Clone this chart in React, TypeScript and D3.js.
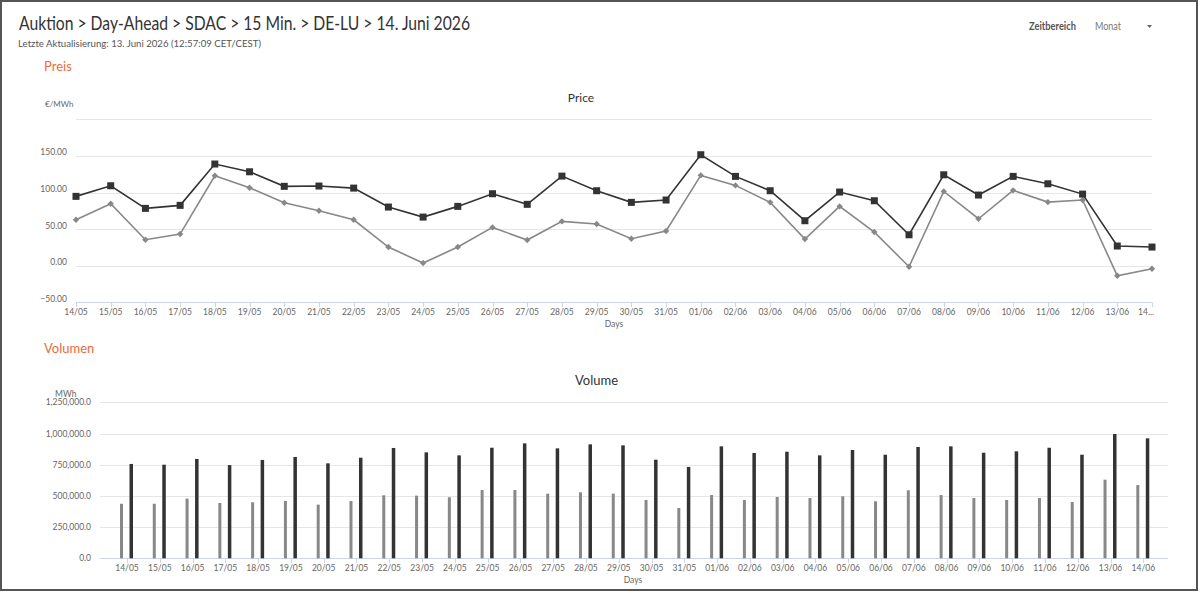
import React, { useEffect, useRef } from 'react';
import * as d3 from 'd3';

// Days on the x axis (14/05 – 14/06)
const days = [
  '14/05', '15/05', '16/05', '17/05', '18/05', '19/05', '20/05', '21/05', '22/05', '23/05',
  '24/05', '25/05', '26/05', '27/05', '28/05', '29/05', '30/05', '31/05', '01/06', '02/06',
  '03/06', '04/06', '05/06', '06/06', '07/06', '08/06', '09/06', '10/06', '11/06', '12/06',
  '13/06', '14/06',
];

// Price €/MWh – dark series (square markers)
const priceDark = [
  94.8, 109.3, 78.4, 82.5, 139.0, 128.4, 108.5, 108.9, 106.1, 80.2,
  66.5, 81.1, 98.4, 83.9, 122.5, 102.5, 86.6, 89.8, 151.7, 122.1,
  102.5, 61.5, 100.7, 88.8, 42.3, 124.3, 96.6, 122.1, 112.0, 97.9,
  26.9, 25.5,
];

// Price €/MWh – light series (diamond markers)
const priceLight = [
  62.8, 84.7, 35.5, 43.3, 123.0, 106.6, 86.1, 75.1, 62.8, 25.5,
  3.7, 25.5, 52.4, 35.1, 60.6, 57.0, 36.9, 47.4, 123.5, 109.8,
  86.6, 36.5, 81.1, 46.0, -1.4, 101.6, 64.2, 103.0, 87.0, 89.8,
  -13.7, -4.1,
];

// Volume MWh
const volumeLight = [
  437000, 437000, 478000, 443000, 449000, 459000, 430000, 459000, 505000, 502000,
  489000, 547000, 547000, 518000, 529000, 518000, 467000, 403000, 507000, 467000,
  491000, 483000, 497000, 457000, 545000, 507000, 483000, 467000, 483000, 451000,
  630000, 587000,
];
const volumeDark = [
  756000, 750000, 796000, 747000, 788000, 812000, 761000, 806000, 884000, 849000,
  825000, 886000, 921000, 881000, 913000, 905000, 790000, 732000, 897000, 844000,
  854000, 825000, 868000, 830000, 892000, 897000, 846000, 857000, 886000, 830000,
  996000, 961000,
];

const priceTicks = [-50, 0, 50, 100, 150, 200];
const volumeTicks = [0, 250000, 500000, 750000, 1000000, 1250000];

const FONT = 'Lato, "Open Sans", sans-serif';
const DARK = '#333333';
const LIGHT = '#888888';
const ORANGE = '#ec6a3e';
const GRID = '#e6e6e6';
const AXIS = '#ccd6eb';
const LABEL = '#666666';

const App: React.FC = () => {
  const svgRef = useRef<SVGSVGElement>(null);

  useEffect(() => {
    if (!svgRef.current) return;
    const svg = d3.select(svgRef.current);
    svg.selectAll('*').remove();

    // frame
    svg.append('rect')
      .attr('x', 1).attr('y', 1)
      .attr('width', 1196).attr('height', 589)
      .attr('fill', '#fff')
      .attr('stroke', '#555').attr('stroke-width', 2);

    // header
    svg.append('text')
      .attr('x', 19).attr('y', 30)
      .attr('textLength', 451).attr('lengthAdjust', 'spacingAndGlyphs')
      .style('font-family', FONT).style('font-size', '19px').style('fill', '#333')
      .text('Auktion > Day-Ahead > SDAC > 15 Min. > DE-LU > 14. Juni 2026');

    svg.append('text')
      .attr('x', 18).attr('y', 47)
      .attr('textLength', 243).attr('lengthAdjust', 'spacingAndGlyphs')
      .style('font-family', FONT).style('font-size', '10px').style('fill', '#555')
      .text('Letzte Aktualisierung: 13. Juni 2026 (12:57:09 CET/CEST)');

    svg.append('text')
      .attr('x', 1029).attr('y', 30)
      .attr('textLength', 47).attr('lengthAdjust', 'spacingAndGlyphs')
      .style('font-family', FONT).style('font-size', '11px').style('font-weight', '700')
      .style('fill', '#555')
      .text('Zeitbereich');
    svg.append('text')
      .attr('x', 1095).attr('y', 30)
      .attr('textLength', 26).attr('lengthAdjust', 'spacingAndGlyphs')
      .style('font-family', FONT).style('font-size', '11px').style('fill', '#777')
      .text('Monat');
    svg.append('path')
      .attr('d', 'M1147,25 L1152,25 L1149.5,28 Z')
      .attr('fill', '#666');

    svg.append('text')
      .attr('x', 44).attr('y', 71)
      .style('font-family', FONT).style('font-size', '13px').style('fill', ORANGE)
      .text('Preis');
    svg.append('text')
      .attr('x', 44).attr('y', 353)
      .style('font-family', FONT).style('font-size', '13px').style('fill', ORANGE)
      .text('Volumen');

    // ---------- Price chart ----------
    const px = d3.scalePoint<string>().domain(days).range([76, 1152]);
    const py = d3.scaleLinear().domain([-50, 200]).range([302.3, 119.4]);
    const pg = svg.append('g');

    pg.append('text')
      .attr('x', 581).attr('y', 102)
      .attr('text-anchor', 'middle')
      .style('font-family', FONT).style('font-size', '12px').style('fill', '#333')
      .text('Price');

    pg.append('text')
      .attr('x', 45).attr('y', 107)
      .style('font-family', FONT).style('font-size', '8px').style('fill', LABEL)
      .text('€/MWh');

    priceTicks.forEach((t) => {
      pg.append('line')
        .attr('x1', 76).attr('x2', 1152)
        .attr('y1', Math.round(py(t)) + 0.5).attr('y2', Math.round(py(t)) + 0.5)
        .attr('stroke', t === -50 ? AXIS : GRID).attr('stroke-width', 1);
      if (t !== 200) {
        pg.append('text')
          .attr('x', 67).attr('y', py(t) - 0.5)
          .attr('text-anchor', 'end')
          .style('font-family', FONT).style('font-size', '8.5px').style('fill', LABEL)
          .text(d3.format('.2f')(t));
      }
    });

    days.forEach((d, i) => {
      const x = Math.round(px(d)!) + 0.5;
      pg.append('line')
        .attr('x1', x).attr('x2', x).attr('y1', 302.5).attr('y2', 307)
        .attr('stroke', AXIS);
      pg.append('text')
        .attr('x', i === days.length - 1 ? px(d)! - 6 : px(d)!)
        .attr('y', 315)
        .attr('text-anchor', 'middle')
        .style('font-family', FONT).style('font-size', '8.5px').style('fill', LABEL)
        .text(i === days.length - 1 ? d.slice(0, 2) + '...' : d);
    });

    pg.append('text')
      .attr('x', 614).attr('y', 327)
      .attr('text-anchor', 'middle')
      .style('font-family', FONT).style('font-size', '8.5px').style('fill', LABEL)
      .text('Days');

    const line = d3.line<number>()
      .x((_, i) => px(days[i])!)
      .y((v) => py(v));

    pg.append('path')
      .datum(priceLight)
      .attr('d', line)
      .attr('fill', 'none').attr('stroke', LIGHT).attr('stroke-width', 1.6);
    pg.append('path')
      .datum(priceDark)
      .attr('d', line)
      .attr('fill', 'none').attr('stroke', DARK).attr('stroke-width', 1.6);

    const diamond = d3.symbol().type(d3.symbolDiamond2).size(26);
    pg.selectAll('path.diamond')
      .data(priceLight)
      .join('path')
      .attr('class', 'diamond')
      .attr('d', diamond)
      .attr('transform', (v, i) => `translate(${px(days[i])},${py(v)})`)
      .attr('fill', LIGHT);

    pg.selectAll('rect.square')
      .data(priceDark)
      .join('rect')
      .attr('class', 'square')
      .attr('x', (_, i) => px(days[i])! - 3.5)
      .attr('y', (v) => py(v) - 3.5)
      .attr('width', 7).attr('height', 7)
      .attr('fill', DARK);

    // ---------- Volume chart ----------
    const vx = d3.scalePoint<string>().domain(days).range([127, 1143.3]);
    const vy = d3.scaleLinear().domain([0, 1250000]).range([558.3, 402.3]);
    const vg = svg.append('g');

    vg.append('text')
      .attr('x', 596.5).attr('y', 385)
      .attr('text-anchor', 'middle')
      .style('font-family', FONT).style('font-size', '13px').style('fill', '#333')
      .text('Volume');

    vg.append('text')
      .attr('x', 55).attr('y', 397)
      .style('font-family', FONT).style('font-size', '8.5px').style('fill', LABEL)
      .text('MWh');

    volumeTicks.forEach((t) => {
      vg.append('line')
        .attr('x1', 100).attr('x2', 1168)
        .attr('y1', Math.round(vy(t)) + 0.5).attr('y2', Math.round(vy(t)) + 0.5)
        .attr('stroke', t === 0 ? AXIS : GRID).attr('stroke-width', 1);
      vg.append('text')
        .attr('x', 91).attr('y', vy(t) + 3)
        .attr('text-anchor', 'end')
        .style('font-family', FONT).style('font-size', '8.5px').style('fill', LABEL)
        .text(d3.format(',.1f')(t));
    });

    days.forEach((d) => {
      const x = Math.round(vx(d)!) + 0.5;
      vg.append('line')
        .attr('x1', x).attr('x2', x).attr('y1', 558.5).attr('y2', 563)
        .attr('stroke', AXIS);
      vg.append('text')
        .attr('x', vx(d)!).attr('y', 571)
        .attr('text-anchor', 'middle')
        .style('font-family', FONT).style('font-size', '8.5px').style('fill', LABEL)
        .text(d);
    });

    vg.append('text')
      .attr('x', 633).attr('y', 583)
      .attr('text-anchor', 'middle')
      .style('font-family', FONT).style('font-size', '8.5px').style('fill', LABEL)
      .text('Days');

    vg.selectAll('rect.vlight')
      .data(volumeLight)
      .join('rect')
      .attr('class', 'vlight')
      .attr('x', (_, i) => vx(days[i])! - 7)
      .attr('y', (v) => vy(v))
      .attr('width', 3)
      .attr('height', (v) => vy(0) - vy(v))
      .attr('fill', LIGHT);

    vg.selectAll('rect.vdark')
      .data(volumeDark)
      .join('rect')
      .attr('class', 'vdark')
      .attr('x', (_, i) => vx(days[i])! + 2.5)
      .attr('y', (v) => vy(v))
      .attr('width', 3.5)
      .attr('height', (v) => vy(0) - vy(v))
      .attr('fill', DARK);
  }, []);

  return (
    <div style={{ position: 'absolute', left: 0, top: 0 }}>
      <svg ref={svgRef} width={1200} height={592} style={{ display: 'block' }} />
    </div>
  );
};

export default App;
